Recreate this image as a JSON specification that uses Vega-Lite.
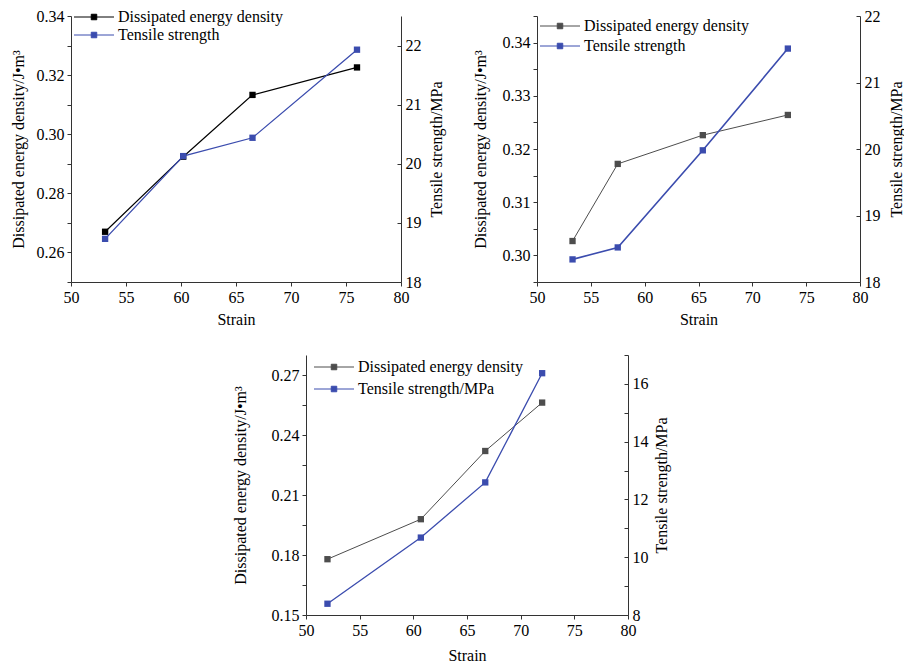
{
  "$schema": "https://vega.github.io/schema/vega-lite/v6.json",
  "padding": {"left": 10, "top": 8, "right": 0, "bottom": 0},
  "config": {
    "font": "Liberation Serif",
    "view": {"stroke": null},
    "axis": {"labelFont": "Liberation Serif", "titleFont": "Liberation Serif", "labelFontSize": 16, "titleFontSize": 16, "titleFontWeight": "normal", "labelColor": "#000", "titleColor": "#000", "domainColor": "#333", "tickColor": "#333", "grid": false, "labelOverlap": false, "labelFlush": false, "labelPadding": 3, "tickSize": 4},
    "axisBottom": {"titlePadding": 6},
    "legend": {"labelFont": "Liberation Serif", "labelFontSize": 16, "labelColor": "#000", "labelLimit": 400}
  },
  "data": {"values": [
    {"panel": 1, "series": "Dissipated energy density", "strain": 53.1, "value": 0.267},
    {"panel": 1, "series": "Dissipated energy density", "strain": 60.2, "value": 0.2924},
    {"panel": 1, "series": "Dissipated energy density", "strain": 66.5, "value": 0.3133},
    {"panel": 1, "series": "Dissipated energy density", "strain": 76.0, "value": 0.3226},
    {"panel": 1, "series": "Tensile strength", "strain": 53.1, "value": 18.73},
    {"panel": 1, "series": "Tensile strength", "strain": 60.2, "value": 20.13},
    {"panel": 1, "series": "Tensile strength", "strain": 66.5, "value": 20.44},
    {"panel": 1, "series": "Tensile strength", "strain": 76.0, "value": 21.93},
    {"panel": 2, "series": "Dissipated energy density", "strain": 53.3, "value": 0.3027},
    {"panel": 2, "series": "Dissipated energy density", "strain": 57.5, "value": 0.3172},
    {"panel": 2, "series": "Dissipated energy density", "strain": 65.4, "value": 0.3226},
    {"panel": 2, "series": "Dissipated energy density", "strain": 73.3, "value": 0.3264},
    {"panel": 2, "series": "Tensile strength", "strain": 53.3, "value": 18.34},
    {"panel": 2, "series": "Tensile strength", "strain": 57.5, "value": 18.52},
    {"panel": 2, "series": "Tensile strength", "strain": 65.4, "value": 19.98},
    {"panel": 2, "series": "Tensile strength", "strain": 73.3, "value": 21.51},
    {"panel": 3, "series": "Dissipated energy density", "strain": 52.0, "value": 0.1779},
    {"panel": 3, "series": "Dissipated energy density", "strain": 60.7, "value": 0.1979},
    {"panel": 3, "series": "Dissipated energy density", "strain": 66.7, "value": 0.232},
    {"panel": 3, "series": "Dissipated energy density", "strain": 72.0, "value": 0.2562},
    {"panel": 3, "series": "Tensile strength/MPa", "strain": 52.0, "value": 8.39},
    {"panel": 3, "series": "Tensile strength/MPa", "strain": 60.7, "value": 10.68},
    {"panel": 3, "series": "Tensile strength/MPa", "strain": 66.7, "value": 12.59},
    {"panel": 3, "series": "Tensile strength/MPa", "strain": 72.0, "value": 16.37}
  ]},
  "spacing": 20,
  "center": true,
  "resolve": {"scale": {"x": "independent", "y": "independent", "color": "independent"}, "legend": {"color": "independent"}, "axis": {"x": "independent", "y": "independent"}},
  "vconcat": [
    {
      "spacing": 28,
      "resolve": {"scale": {"x": "independent", "y": "independent", "color": "independent"}, "legend": {"color": "independent"}, "axis": {"x": "independent", "y": "independent"}},
      "hconcat": [
        {
          "width": 330, "height": 266,
          "transform": [{"filter": "datum.panel == 1"}],
          "resolve": {"scale": {"y": "independent"}},
          "layer": [
            {
              "transform": [{"filter": "datum.series == 'Dissipated energy density'"}],
              "mark": {"type": "line", "strokeWidth": 1.2, "point": {"shape": "square", "filled": true, "size": 40}},
              "encoding": {
                "x": {"field": "strain", "type": "quantitative", "scale": {"domain": [50, 80], "nice": false, "zero": false},
                      "axis": {"title": "Strain", "format": "d", "values": [50, 52.5, 55, 57.5, 60, 62.5, 65, 67.5, 70, 72.5, 75, 77.5, 80], "labelExpr": "datum.value % 5 == 0 ? datum.label : ''"}},
                "y": {"field": "value", "type": "quantitative", "scale": {"domain": [0.25, 0.34], "nice": false, "zero": false},
                      "axis": {"title": "Dissipated energy density/J•m³", "titlePadding": 10, "format": ".2f", "values": [0.25, 0.26, 0.27, 0.28, 0.29, 0.3, 0.31, 0.32, 0.33, 0.34], "labelExpr": "indexof([0.26, 0.28, 0.3, 0.32, 0.34], datum.value) >= 0 ? datum.label : ''"}},
                "color": {"field": "series", "type": "nominal", "scale": {"domain": ["Dissipated energy density", "Tensile strength"], "range": ["#000000", "#3b4cae"]},
                          "legend": {"orient": "none", "legendX": 15, "legendY": -7, "title": null, "symbolType": "M-4,0H4M-0.55,-0.55H0.55V0.55H-0.55Z", "symbolSize": 100, "symbolStrokeWidth": 1, "labelOffset": 16, "rowPadding": 2,
                                     "encode": {"symbols": {"update": {"fill": {"signal": "indexof(datum.value, 'Tensile') == 0 ? '#3b4cae' : '#000000'"}, "stroke": {"signal": "indexof(datum.value, 'Tensile') == 0 ? '#3b4cae' : '#000000'"}}}}}}
              }
            },
            {
              "transform": [{"filter": "datum.series != 'Dissipated energy density'"}],
              "mark": {"type": "line", "strokeWidth": 1.3, "point": {"shape": "square", "filled": true, "size": 40}},
              "encoding": {
                "x": {"field": "strain", "type": "quantitative"},
                "y": {"field": "value", "type": "quantitative", "scale": {"domain": [18, 22.5], "nice": false, "zero": false},
                      "axis": {"orient": "right", "title": "Tensile strength/MPa", "titleAngle": -90, "titleBaseline": "top", "titlePadding": 7, "format": "d", "values": [18, 18.5, 19, 19.5, 20, 20.5, 21, 21.5, 22, 22.5], "labelExpr": "datum.value % 1 == 0 ? datum.label : ''", "tickSize": -4, "labelPadding": 8}},
                "color": {"field": "series", "type": "nominal"}
              }
            }
          ]
        },
        {
          "width": 323, "height": 266,
          "transform": [{"filter": "datum.panel == 2"}],
          "resolve": {"scale": {"y": "independent"}},
          "layer": [
            {
              "transform": [{"filter": "datum.series == 'Dissipated energy density'"}],
              "mark": {"type": "line", "strokeWidth": 1, "point": {"shape": "square", "filled": true, "size": 40}},
              "encoding": {
                "x": {"field": "strain", "type": "quantitative", "scale": {"domain": [50, 80], "nice": false, "zero": false},
                      "axis": {"title": "Strain", "format": "d", "values": [50, 52.5, 55, 57.5, 60, 62.5, 65, 67.5, 70, 72.5, 75, 77.5, 80], "labelExpr": "datum.value % 5 == 0 ? datum.label : ''"}},
                "y": {"field": "value", "type": "quantitative", "scale": {"domain": [0.295, 0.345], "nice": false, "zero": false},
                      "axis": {"title": "Dissipated energy density/J•m³", "titlePadding": 14, "format": ".2f", "values": [0.295, 0.3, 0.305, 0.31, 0.315, 0.32, 0.325, 0.33, 0.335, 0.34, 0.345], "labelExpr": "indexof([0.3, 0.31, 0.32, 0.33, 0.34], datum.value) >= 0 ? datum.label : ''"}},
                "color": {"field": "series", "type": "nominal", "scale": {"domain": ["Dissipated energy density", "Tensile strength"], "range": ["#4d4d4d", "#3b4cae"]},
                          "legend": {"orient": "none", "legendX": 15, "legendY": 2, "title": null, "symbolType": "M-4,0H4M-0.55,-0.55H0.55V0.55H-0.55Z", "symbolSize": 100, "symbolStrokeWidth": 1, "labelOffset": 16, "rowPadding": 4,
                                     "encode": {"symbols": {"update": {"fill": {"signal": "indexof(datum.value, 'Tensile') == 0 ? '#3b4cae' : '#4d4d4d'"}, "stroke": {"signal": "indexof(datum.value, 'Tensile') == 0 ? '#3b4cae' : '#4d4d4d'"}}}}}}
              }
            },
            {
              "transform": [{"filter": "datum.series != 'Dissipated energy density'"}],
              "mark": {"type": "line", "strokeWidth": 1.6, "point": {"shape": "square", "filled": true, "size": 40}},
              "encoding": {
                "x": {"field": "strain", "type": "quantitative"},
                "y": {"field": "value", "type": "quantitative", "scale": {"domain": [18, 22], "nice": false, "zero": false},
                      "axis": {"orient": "right", "title": "Tensile strength/MPa", "titleAngle": -90, "titleBaseline": "top", "titlePadding": 8, "format": "d", "values": [18, 18.5, 19, 19.5, 20, 20.5, 21, 21.5, 22], "labelExpr": "datum.value % 1 == 0 ? datum.label : ''", "tickSize": -4, "labelPadding": 8}},
                "color": {"field": "series", "type": "nominal"}
              }
            }
          ]
        }
      ]
    },
    {
      "width": 322, "height": 260,
      "transform": [{"filter": "datum.panel == 3"}],
      "resolve": {"scale": {"y": "independent"}},
      "layer": [
        {
          "transform": [{"filter": "datum.series == 'Dissipated energy density'"}],
          "mark": {"type": "line", "strokeWidth": 1, "point": {"shape": "square", "filled": true, "size": 40}},
          "encoding": {
            "x": {"field": "strain", "type": "quantitative", "scale": {"domain": [50, 80], "nice": false, "zero": false},
                  "axis": {"title": "Strain", "titlePadding": 9, "format": "d", "values": [50, 52.5, 55, 57.5, 60, 62.5, 65, 67.5, 70, 72.5, 75, 77.5, 80], "labelExpr": "datum.value % 5 == 0 ? datum.label : ''"}},
            "y": {"field": "value", "type": "quantitative", "scale": {"domain": [0.15, 0.28], "nice": false, "zero": false},
                  "axis": {"title": "Dissipated energy density/J•m³", "titlePadding": 23, "format": ".2f", "values": [0.15, 0.165, 0.18, 0.195, 0.21, 0.225, 0.24, 0.255, 0.27], "labelExpr": "indexof([0.15, 0.18, 0.21, 0.24, 0.27], datum.value) >= 0 ? datum.label : ''"}},
            "color": {"field": "series", "type": "nominal", "scale": {"domain": ["Dissipated energy density", "Tensile strength/MPa"], "range": ["#4d4d4d", "#3b4cae"]},
                      "legend": {"orient": "none", "legendX": 20, "legendY": 4, "title": null, "symbolType": "M-4,0H4M-0.55,-0.55H0.55V0.55H-0.55Z", "symbolSize": 100, "symbolStrokeWidth": 1, "labelOffset": 16, "rowPadding": 6,
                                 "encode": {"symbols": {"update": {"fill": {"signal": "indexof(datum.value, 'Tensile') == 0 ? '#3b4cae' : '#4d4d4d'"}, "stroke": {"signal": "indexof(datum.value, 'Tensile') == 0 ? '#3b4cae' : '#4d4d4d'"}}}}}}
          }
        },
        {
          "transform": [{"filter": "datum.series != 'Dissipated energy density'"}],
          "mark": {"type": "line", "strokeWidth": 1.3, "point": {"shape": "square", "filled": true, "size": 40}},
          "encoding": {
            "x": {"field": "strain", "type": "quantitative"},
            "y": {"field": "value", "type": "quantitative", "scale": {"domain": [8, 17], "nice": false, "zero": false},
                  "axis": {"orient": "right", "title": "Tensile strength/MPa", "titleAngle": -90, "titleBaseline": "top", "titlePadding": 5, "format": "d", "values": [8, 9, 10, 11, 12, 13, 14, 15, 16, 17], "labelExpr": "datum.value % 2 == 0 ? datum.label : ''", "tickSize": -4, "labelPadding": 8}},
            "color": {"field": "series", "type": "nominal"}
          }
        }
      ]
    }
  ]
}
